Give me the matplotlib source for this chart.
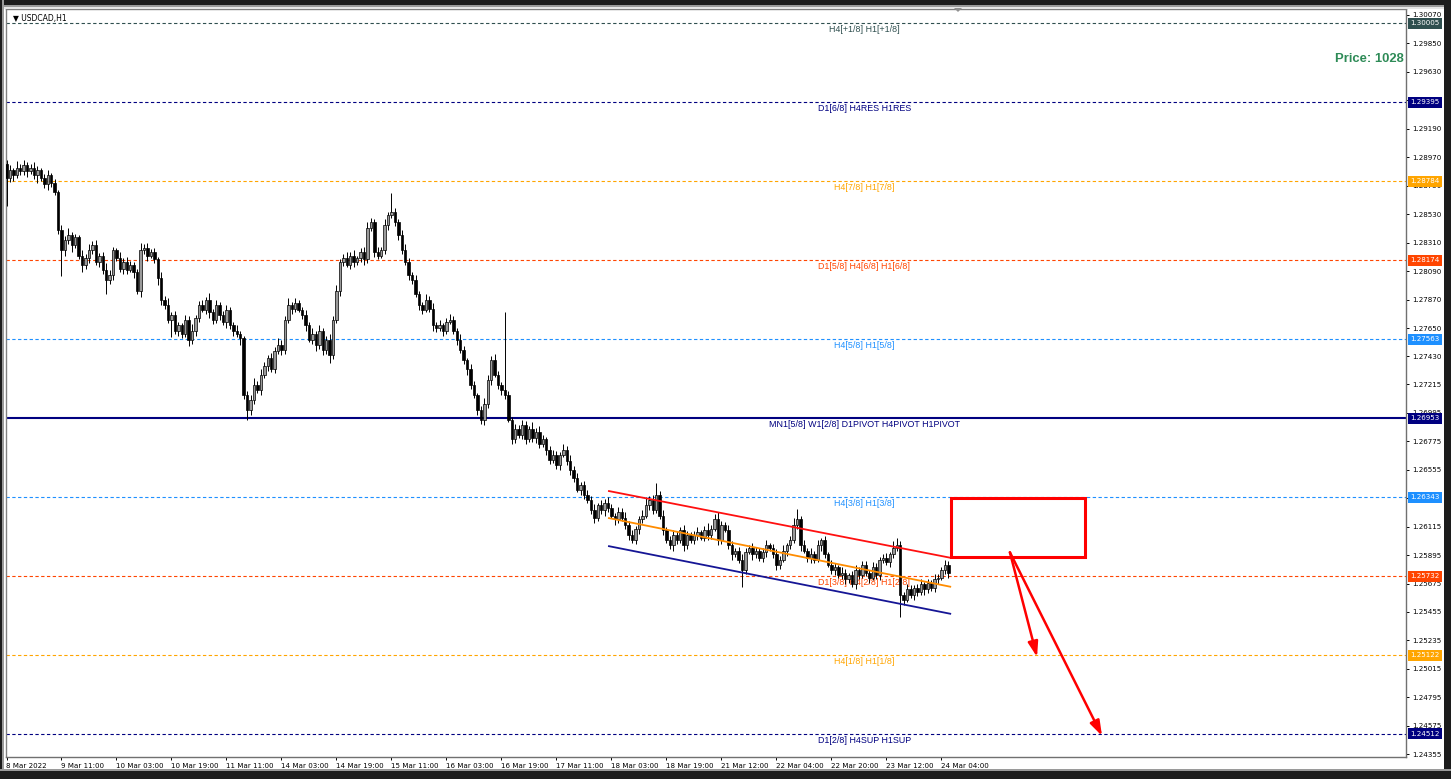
import matplotlib
matplotlib.use('Agg')
import matplotlib.pyplot as plt
from matplotlib.patches import Rectangle, Polygon
from matplotlib.transforms import blended_transform_factory

# ---------------- data ----------------
symbol_title = "USDCAD,H1"
first_open = 1.2892
closes = [
    1.2881, 1.2887, 1.2883, 1.2889, 1.2886, 1.2891, 1.2886, 1.2889, 1.2883, 1.2887,
    1.2881, 1.2876, 1.2883, 1.2877, 1.2870, 1.2841, 1.2825, 1.2833, 1.2837, 1.2829,
    1.2835, 1.2821, 1.2814, 1.2819, 1.2825, 1.2829, 1.2816, 1.2821, 1.2810, 1.2802,
    1.2806, 1.2825, 1.2819, 1.2811, 1.2816, 1.2810, 1.2814, 1.2808, 1.2794, 1.2825,
    1.2827, 1.2821, 1.2824, 1.2818, 1.2804, 1.2787, 1.2783, 1.2771, 1.2775, 1.2763,
    1.2767, 1.2760, 1.2771, 1.2756, 1.2763, 1.2773, 1.2783, 1.2779, 1.2787, 1.2777,
    1.2771, 1.2783, 1.2775, 1.2770, 1.2779, 1.2767, 1.2763, 1.2760, 1.2757, 1.2713,
    1.2702, 1.2709, 1.2721, 1.2717, 1.2729, 1.2736, 1.2742, 1.2733, 1.2747, 1.2752,
    1.2748, 1.2771, 1.2783, 1.2780, 1.2784, 1.2779, 1.2775, 1.2767, 1.2756, 1.2760,
    1.2752, 1.2763, 1.2748, 1.2756, 1.2744, 1.2771, 1.2794, 1.2816, 1.2819, 1.2814,
    1.2821, 1.2816, 1.2819, 1.2824, 1.2818, 1.2842, 1.2847, 1.2824, 1.2821, 1.2825,
    1.2845, 1.2852, 1.2855, 1.2847, 1.2837, 1.2825, 1.2816, 1.2806, 1.2802, 1.2791,
    1.2783, 1.2779, 1.2787, 1.2780, 1.2767, 1.2765, 1.2767, 1.2763, 1.2770, 1.2771,
    1.2763, 1.2756, 1.2748, 1.2740, 1.2733, 1.2721, 1.2713, 1.2702, 1.2694, 1.2706,
    1.2725, 1.2740, 1.2729, 1.2721, 1.2717, 1.2713, 1.2694, 1.2679, 1.2687, 1.2682,
    1.2690, 1.2679, 1.2687, 1.2680, 1.2685, 1.2675, 1.2679, 1.2671, 1.2663, 1.2667,
    1.2659, 1.2667, 1.2671, 1.2662, 1.2655, 1.2649, 1.2640, 1.2644, 1.2636, 1.2632,
    1.2624, 1.2618, 1.2628, 1.2624, 1.2630, 1.2626, 1.2620, 1.2617, 1.2623, 1.2618,
    1.2613, 1.2605, 1.2601, 1.2610, 1.2617, 1.2620, 1.2628, 1.2632, 1.2624, 1.2636,
    1.2620, 1.2609, 1.2601, 1.2597, 1.2605, 1.2601, 1.2609, 1.2597, 1.2605, 1.2601,
    1.2605, 1.2607, 1.2603, 1.2609, 1.2605, 1.2610, 1.2617, 1.2601, 1.2613, 1.2609,
    1.2597, 1.2590, 1.2593, 1.2586, 1.2578, 1.2592, 1.2595, 1.2590, 1.2593, 1.2587,
    1.2592, 1.2597, 1.2595, 1.2590, 1.2582, 1.2586, 1.2593, 1.2597, 1.2601, 1.2613,
    1.2617, 1.2597, 1.2593, 1.2587, 1.2590, 1.2586, 1.2597, 1.2601, 1.2590, 1.2582,
    1.2578, 1.2580, 1.2574, 1.2576, 1.2571, 1.2574, 1.2567, 1.2578, 1.2574, 1.2582,
    1.2576, 1.2572, 1.2580, 1.2574, 1.2586, 1.2587, 1.2584, 1.2590, 1.2595, 1.2597,
    1.2559, 1.2555, 1.2563, 1.2559, 1.2564, 1.2561, 1.2567, 1.2563, 1.2568, 1.2564,
    1.2571, 1.2572, 1.2578, 1.2582, 1.2576,
]
# wick sizes in pips above max(open, close) / below min(open, close)
upper_wick_pips = [
    3, 4, 2, 5, 3, 4, 2, 3, 4, 3, 2, 3, 4, 2, 3, 2, 4, 3, 5, 2, 3, 2, 4, 3, 5,
    3, 4, 2, 3, 5, 4, 3, 2, 5, 3, 4, 3, 2, 3, 6, 3, 4, 2, 3, 2, 4, 3, 5, 2, 3,
    3, 2, 4, 3, 5, 2, 3, 4, 2, 5, 3, 4, 2, 3, 4, 2, 3, 4, 3, 2, 3, 4, 5, 3, 4,
    3, 2, 4, 3, 5, 4, 3, 5, 2, 4, 3, 2, 4, 3, 5, 3, 4, 2, 3, 4, 3, 4, 2, 3, 5,
    3, 4, 2, 3, 4, 5, 3, 2, 4, 3, 4, 3, 14, 3, 2, 4, 5, 3, 2, 4, 3, 2, 4, 3, 4,
    3, 4, 2, 3, 5, 3, 2, 4, 3, 2, 4, 3, 2, 3, 5, 4, 3, 5, 3, 2, 60, 3, 2, 4, 3,
    4, 3, 2, 5, 3, 4, 3, 2, 3, 4, 3, 2, 4, 3, 5, 3, 4, 2, 3, 4, 3, 5, 2, 4, 3,
    4, 3, 2, 4, 3, 5, 3, 4, 2, 3, 4, 6, 3, 4, 9, 3, 4, 2, 3, 4, 3, 2, 4, 3, 2,
    3, 4, 2, 3, 5, 3, 4, 6, 3, 2, 4, 3, 2, 3, 4, 3, 2, 4, 3, 2, 3, 4, 2, 3, 4,
    3, 4, 2, 3, 5, 8, 3, 4, 2, 5, 3, 4, 2, 3, 2, 4, 3, 2, 4, 3, 2, 3, 4, 2, 3,
    3, 2, 4, 3, 2, 3, 4, 2, 5, 6, 3, 2, 4, 3, 2, 3, 4, 2, 3, 2, 4, 3, 2, 4, 3,
]
lower_wick_pips = [
    22, 3, 4, 2, 3, 3, 4, 2, 3, 6, 2, 3, 4, 3, 2, 3, 20, 4, 3, 5, 2, 3, 6, 3, 4,
    3, 2, 4, 3, 11, 3, 4, 2, 3, 4, 3, 2, 4, 3, 5, 3, 4, 2, 3, 6, 4, 3, 2, 13, 3,
    4, 3, 2, 5, 3, 4, 3, 2, 3, 4, 3, 2, 4, 3, 5, 3, 4, 2, 5, 3, 8, 4, 3, 2, 4,
    3, 4, 2, 3, 2, 4, 3, 2, 4, 3, 2, 3, 4, 2, 3, 5, 3, 4, 3, 6, 3, 2, 4, 3, 2,
    3, 4, 2, 3, 4, 3, 2, 4, 3, 2, 3, 4, 2, 3, 4, 3, 2, 4, 3, 2, 4, 3, 2, 3, 4,
    3, 2, 4, 3, 2, 3, 4, 2, 3, 4, 3, 2, 4, 3, 4, 3, 4, 2, 3, 4, 3, 2, 4, 3, 2,
    3, 4, 2, 3, 4, 3, 2, 4, 3, 2, 3, 4, 2, 3, 4, 3, 2, 4, 3, 2, 3, 4, 2, 3, 4,
    3, 2, 4, 3, 2, 3, 4, 2, 3, 4, 3, 2, 4, 3, 2, 3, 4, 2, 3, 4, 3, 2, 4, 3, 2,
    3, 4, 2, 3, 4, 3, 2, 4, 3, 2, 3, 4, 2, 3, 13, 3, 2, 4, 3, 2, 3, 4, 2, 3, 4,
    3, 2, 4, 3, 2, 3, 4, 2, 3, 4, 3, 2, 4, 3, 2, 3, 4, 2, 3, 4, 3, 2, 4, 3, 2,
    3, 4, 2, 3, 4, 3, 2, 4, 3, 2, 17, 4, 2, 3, 4, 3, 2, 4, 3, 2, 3, 4, 2, 3, 4,
]

x_tick_bars = [0, 16, 32, 48, 64, 80, 96, 112, 128, 144, 160, 176, 192, 208, 224, 240, 256, 272]
x_tick_labels = ["8 Mar 2022", "9 Mar 11:00", "10 Mar 03:00", "10 Mar 19:00", "11 Mar 11:00",
                 "14 Mar 03:00", "14 Mar 19:00", "15 Mar 11:00", "16 Mar 03:00", "16 Mar 19:00",
                 "17 Mar 11:00", "18 Mar 03:00", "18 Mar 19:00", "21 Mar 12:00", "22 Mar 04:00",
                 "22 Mar 20:00", "23 Mar 12:00", "24 Mar 04:00"]

y_ticks = [1.30070, 1.29850, 1.29630, 1.29410, 1.29190, 1.28970, 1.28750, 1.28530, 1.28310,
           1.28090, 1.27870, 1.27650, 1.27430, 1.27215, 1.26995, 1.26775, 1.26555, 1.26335,
           1.26115, 1.25895, 1.25675, 1.25455, 1.25235, 1.25015, 1.24795, 1.24575, 1.24355]

level_prices = [1.30005, 1.29395, 1.28784, 1.28174, 1.27563, 1.26953, 1.26343, 1.25732, 1.25122, 1.24512]
level_labels = ["H4[+1/8] H1[+1/8]", "D1[6/8] H4RES H1RES", "H4[7/8] H1[7/8]",
                "D1[5/8] H4[6/8] H1[6/8]", "H4[5/8] H1[5/8]",
                "MN1[5/8] W1[2/8] D1PIVOT H4PIVOT H1PIVOT", "H4[3/8] H1[3/8]",
                "D1[3/8] H4[2/8] H1[2/8]", "H4[1/8] H1[1/8]", "D1[2/8] H4SUP H1SUP"]
level_colors = ['#2f4f4f', '#000080', '#ffa500', '#ff4500', '#1e90ff',
                '#000080', '#1e90ff', '#ff4500', '#ffa500', '#000080']
level_solid = [False, False, False, False, False, True, False, False, False, False]

channel_x = [175.0, 274.8]
channel_upper = [1.26391, 1.25873]
channel_mid = [1.26182, 1.25649]
channel_lower = [1.25965, 1.25440]

zone_x = [274.8, 313.8]
zone_y = [1.25880, 1.26336]
arrow_start = (291.9, 1.25916)
arrow_ends = [(299.8, 1.25107), (318.7, 1.24497)]

price_text = "Price: 1028"

# ---------------- figure ----------------
W, H = 1451, 779
fig = plt.figure(figsize=(W / 100, H / 100), dpi=100)
fig.patch.set_facecolor('white')
L, R, T, B = 6, 1406, 9, 757
ax = fig.add_axes([L / W, 1 - B / H, (R - L) / W, (B - T) / H])
ax.set_facecolor('white')

px_per_bar = 3.4375
x0_px = 6.5
ax.set_xlim((L - x0_px) / px_per_bar, (R - x0_px) / px_per_bar)
ax.set_ylim(1.24334, 1.30116)

FONT = 'DejaVu Sans'
FS = 5.1
LABEL_FONT = 'Liberation Sans'

# level lines
for p, lab, col, solid in zip(level_prices, level_labels, level_colors, level_solid):
    if solid:
        ax.axhline(p, color=col, lw=1.5, zorder=1)
    else:
        ax.axhline(p, color=col, lw=0.8, ls=(0, (3, 2.2)), zorder=1)
    ax.text(249.5, p - 0.00050, lab, color=col, fontsize=6.4, family=LABEL_FONT,
            ha='center', va='center', zorder=1.5)

# candles
opens = [first_open] + closes[:-1]
for i, (o, c, uw, lw) in enumerate(zip(opens, closes, upper_wick_pips, lower_wick_pips)):
    hi = max(o, c) + uw * 0.0001
    lo = min(o, c) - lw * 0.0001
    ax.vlines(i, lo, hi, color='black', lw=0.7, zorder=3)
    bull = c >= o
    h = abs(c - o)
    if h < 0.00004:
        ax.hlines(c, i - 0.35, i + 0.35, color='black', lw=0.8, zorder=4)
    else:
        ax.add_patch(Rectangle((i - 0.35, min(o, c)), 0.70, h,
                               facecolor='#9a9a9a' if bull else 'black',
                               edgecolor='black', lw=0.5, zorder=4))

# channel
ax.plot(channel_x, channel_upper, color='#ff1010', lw=1.3, zorder=5, solid_capstyle='butt')
ax.plot(channel_x, channel_mid, color='#ff8c00', lw=1.3, zorder=5, solid_capstyle='butt')
ax.plot(channel_x, channel_lower, color='#151595', lw=1.3, zorder=5, solid_capstyle='butt')

# zone rectangle
ax.add_patch(Rectangle((zone_x[0], zone_y[0]), zone_x[1] - zone_x[0], zone_y[1] - zone_y[0],
                       facecolor='none', edgecolor='#ff0000', lw=2.2, zorder=6))
# arrows
for ex, ey in arrow_ends:
    ax.annotate('', xy=(ex, ey), xytext=arrow_start,
                arrowprops=dict(arrowstyle='-|>,head_length=0.9,head_width=0.3',
                                color='#ff0000', lw=1.8, shrinkA=0, shrinkB=0),
                zorder=6)

# axes styling
for s in ['left', 'top']:
    ax.spines[s].set_color('#808080')
    ax.spines[s].set_linewidth(1.0)
for s in ['right', 'bottom']:
    ax.spines[s].set_color('#707070')
    ax.spines[s].set_linewidth(1.0)

ax.yaxis.tick_right()
ax.set_yticks(y_ticks)
ax.set_yticklabels([f"{v:.5f}" for v in y_ticks], fontsize=FS, family=FONT)
ax.tick_params(axis='y', which='both', left=False, right=True, direction='out',
               length=2.5, width=0.7, pad=2, colors='black')

ax.set_xticks(x_tick_bars)
ax.set_xticklabels(x_tick_labels, fontsize=FS, family=FONT, ha='left')
ax.tick_params(axis='x', direction='out', length=2.5, width=0.7, pad=1.5, colors='black')
for lab in ax.get_xticklabels():
    lab.set_horizontalalignment('left')

# highlighted price boxes on the right axis
trans = blended_transform_factory(ax.transAxes, ax.transData)
box_h = 0.00085
for p, col in zip(level_prices, level_colors):
    ax.add_patch(Rectangle(((1408 - L) / (R - L), p - box_h / 2), 34 / (R - L), box_h,
                           transform=trans, facecolor=col, edgecolor='none',
                           clip_on=False, zorder=10))
    ax.text((1410 - L) / (R - L), p, f"{p:.5f}", transform=trans, color='white',
            fontsize=FS, family=FONT, ha='left', va='center', clip_on=False, zorder=11)

# title in top-left
ax.text(0.005, 0.993, "\u25BC " + symbol_title, transform=ax.transAxes, fontsize=FS + 0.4,
        family=FONT, ha='left', va='top', color='black')

# price text
fig.text(1404 / W, 1 - 59 / H, price_text, color='#2e8b57', fontsize=9.4, fontweight='bold',
         family='Liberation Sans', ha='right', va='center')

# window chrome
def band(x, y, w, h, col):
    fig.patches.append(Rectangle((x / W, 1 - (y + h) / H), w / W, h / H,
                                 transform=fig.transFigure, facecolor=col,
                                 edgecolor='none', zorder=30))

band(0, 0, W, 5, '#1c1c1c')
band(0, 5, W, 2, '#9a9a9a')
band(0, 7, W, 2, '#e6e6e6')
band(0, 0, 2, H, '#1c1c1c')
band(2, 0, 2, H, '#9a9a9a')
band(1444, 0, 7, H, '#1c1c1c')
band(0, 771, W, 8, '#1c1c1c')
band(0, 769, W, 2, '#9a9a9a')

# small shift marker at top
fig.patches.append(Polygon([[954 / W, 1 - 8 / H], [962 / W, 1 - 8 / H], [958 / W, 1 - 12 / H]],
                           closed=True, transform=fig.transFigure, facecolor='#909090',
                           edgecolor='none', zorder=40))

fig.savefig('out.png', dpi=100, facecolor='white')
